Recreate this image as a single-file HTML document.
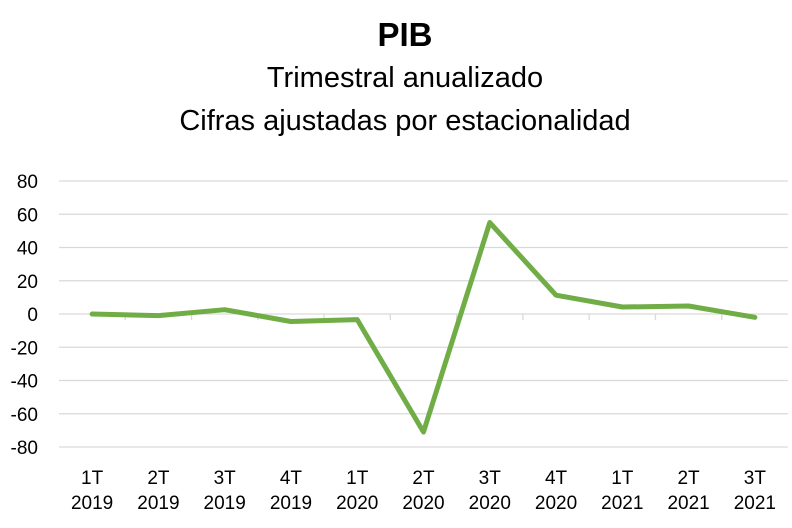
<!DOCTYPE html>
<html><head><meta charset="utf-8"><style>
body{margin:0;background:#fff;}
svg{display:block;font-family:"Liberation Sans",sans-serif;}
</style></head><body>
<svg width="792" height="528" viewBox="0 0 792 528">
<text x="405" y="46" text-anchor="middle" font-size="33" font-weight="bold" fill="#000">PIB</text>
<text x="405" y="87" text-anchor="middle" font-size="29" fill="#000">Trimestral anualizado</text>
<text x="405" y="130" text-anchor="middle" font-size="29" fill="#000">Cifras ajustadas por estacionalidad</text>
<g id="grid"></g><g id="yt"></g><g id="xt"></g><g id="ln"></g>
</svg>
<script>
const categories=["1T|2019","2T|2019","3T|2019","4T|2019","1T|2020","2T|2020","3T|2020","4T|2020","1T|2021","2T|2021","3T|2021"];
const values=[0,-1,2.6,-4.5,-3.4,-71,55,11.3,4.2,4.8,-2];
const yTicks=[80,60,40,20,0,-20,-40,-60,-80];
const ns="http://www.w3.org/2000/svg";
const x0=59,x1=788,step=(x1-x0)/categories.length;
const y=v=>314-v*(314-181)/80;
const x=i=>x0+step*(i+0.5);
function mk(t,a,p){const e=document.createElementNS(ns,t);for(const k in a)e.setAttribute(k,a[k]);p.appendChild(e);return e;}
const g=document.getElementById('grid'),yt=document.getElementById('yt'),xt=document.getElementById('xt'),ln=document.getElementById('ln');
yTicks.forEach(v=>{
 const l=mk('line',{x1:x0,x2:x1,y1:y(v),y2:y(v),stroke:'#d9d9d9','stroke-width':1.3},g);
 
 
 const t=mk('text',{x:38,y:y(v)+7,'text-anchor':'end','font-size':19,fill:'#000'},yt);
 t.textContent=v;
 
 
});
categories.forEach((c,i)=>{
 const p=c.split('|');
 const t=mk('text',{'text-anchor':'middle','font-size':19,fill:'#000'},xt);
 
 
 const a=mk('tspan',{x:x(i),y:484},t);a.textContent=p[0];
 const b=mk('tspan',{x:x(i),y:509},t);b.textContent=p[1];
 if(i>0){const tk=mk('line',{x1:x0+step*i,x2:x0+step*i,y1:y(0),y2:y(0)+6,stroke:'#d9d9d9','stroke-width':1.3},g);
 
 }
});
const path=mk('polyline',{points:values.map((v,i)=>x(i)+','+y(v)).join(' '),fill:'none',stroke:'#70ad47','stroke-width':5,'stroke-linejoin':'round','stroke-linecap':'round'},ln);


</script>
</body></html>
